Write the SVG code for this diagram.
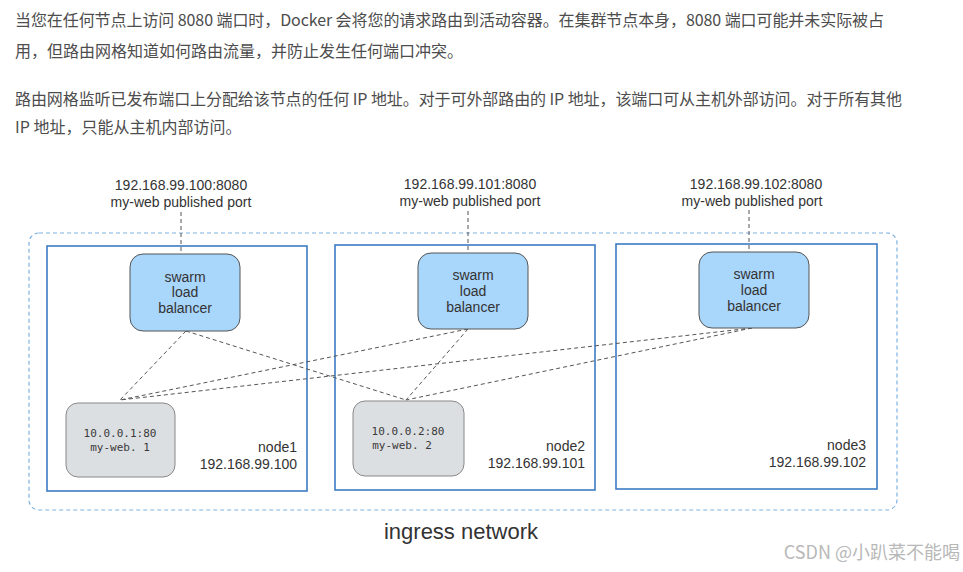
<svg xmlns="http://www.w3.org/2000/svg" width="963" height="572" viewBox="0 0 963 572">
<style>
.para{font-family:"Noto Sans CJK SC","Noto Sans",sans-serif;font-size:16px;fill:#4d4d4d}
.lbl{font-family:"Liberation Sans",Arial,sans-serif;font-size:14px;fill:#333}
.mono{font-family:"DejaVu Sans Mono","Liberation Mono",monospace;font-size:11px;fill:#3a3a3a;font-weight:normal}
.node{fill:#fff;stroke:#3d7bc4;stroke-width:1.6}
.lb{fill:#a9d6fb;stroke:#555;stroke-width:1}
.ct{fill:#dcdfe2;stroke:#888;stroke-width:1}
.conn{stroke:#555;stroke-width:1;stroke-dasharray:4 3;fill:none}
.outer{fill:none;stroke:#7db2e0;stroke-width:1.2;stroke-dasharray:4 3}
</style>
<rect width="963" height="572" fill="#fff"/>
<g id="text">
<text class="para" x="15" y="26" textLength="869" lengthAdjust="spacing">当您在任何节点上访问 8080 端口时，Docker 会将您的请求路由到活动容器。在集群节点本身，8080 端口可能并未实际被占</text>
<text class="para" x="15" y="57">用，但路由网格知道如何路由流量，并防止发生任何端口冲突。</text>
<text class="para" x="15" y="105" textLength="887" lengthAdjust="spacing">路由网格监听已发布端口上分配给该节点的任何 IP 地址。对于可外部路由的 IP 地址，该端口可从主机外部访问。对于所有其他</text>
<text class="para" x="15" y="133">IP 地址，只能从主机内部访问。</text>
</g>
<rect id="ingress" class="outer" x="29" y="233" width="868" height="277" rx="10"/>
<g id="node1"><rect class="node" x="47" y="246" width="260" height="245"/>
<text class="lbl" x="297" y="452" text-anchor="end">node1</text>
<text class="lbl" x="297" y="469" text-anchor="end">192.168.99.100</text></g>
<g id="node2"><rect class="node" x="335" y="245" width="260" height="245"/>
<text class="lbl" x="585" y="451" text-anchor="end">node2</text>
<text class="lbl" x="585" y="468" text-anchor="end">192.168.99.101</text></g>
<g id="node3"><rect class="node" x="616" y="244" width="261" height="245"/>
<text class="lbl" x="866" y="450" text-anchor="end">node3</text>
<text class="lbl" x="866" y="467" text-anchor="end">192.168.99.102</text></g>
<g id="connectors">
<line class="conn" x1="181" y1="212" x2="181" y2="254"/>
<line class="conn" x1="468" y1="211" x2="468" y2="253"/>
<line class="conn" x1="749" y1="210" x2="749" y2="252"/>
<line class="conn" x1="186" y1="331" x2="120" y2="400"/>
<line class="conn" x1="186" y1="331" x2="406" y2="400"/>
<line class="conn" x1="468" y1="329" x2="120" y2="400"/>
<line class="conn" x1="468" y1="329" x2="406" y2="400"/>
<line class="conn" x1="752" y1="328" x2="120" y2="400"/>
<line class="conn" x1="752" y1="328" x2="406" y2="400"/>
</g>
<g id="pub1"><text class="lbl" x="181" y="190" text-anchor="middle">192.168.99.100:8080</text><text class="lbl" x="181" y="207" text-anchor="middle">my-web published port</text></g>
<g id="pub2"><text class="lbl" x="470" y="189" text-anchor="middle">192.168.99.101:8080</text><text class="lbl" x="470" y="206" text-anchor="middle">my-web published port</text></g>
<g id="pub3"><text class="lbl" x="756" y="189" text-anchor="middle">192.168.99.102:8080</text><text class="lbl" x="752" y="206" text-anchor="middle">my-web published port</text></g>
<g id="lb1"><rect class="lb" x="130" y="254" width="110" height="77" rx="13"/>
<text class="lbl" x="185" y="282" text-anchor="middle">swarm</text><text class="lbl" x="185" y="297" text-anchor="middle">load</text><text class="lbl" x="185" y="313" text-anchor="middle">balancer</text></g>
<g id="lb2"><rect class="lb" x="418" y="253" width="110" height="76" rx="13"/>
<text class="lbl" x="473" y="280" text-anchor="middle">swarm</text><text class="lbl" x="473" y="296" text-anchor="middle">load</text><text class="lbl" x="473" y="312" text-anchor="middle">balancer</text></g>
<g id="lb3"><rect class="lb" x="699" y="252" width="110" height="76" rx="13"/>
<text class="lbl" x="754" y="279" text-anchor="middle">swarm</text><text class="lbl" x="754" y="295" text-anchor="middle">load</text><text class="lbl" x="754" y="311" text-anchor="middle">balancer</text></g>
<g id="c1"><rect class="ct" x="66" y="403" width="109" height="74" rx="12"/>
<text class="mono" x="120" y="437" text-anchor="middle">10.0.0.1:80</text><text class="mono" x="120" y="451" text-anchor="middle">my-web. 1</text></g>
<g id="c2"><rect class="ct" x="353" y="401" width="111" height="75" rx="12"/>
<text class="mono" x="408" y="435" text-anchor="middle">10.0.0.2:80</text><text class="mono" x="402" y="449" text-anchor="middle">my-web. 2</text></g>
<text class="lbl" x="461" y="539" text-anchor="middle" style="font-size:22px">ingress network</text>
<text x="960" y="559" text-anchor="end" style="font-family:'Noto Sans CJK SC','Noto Sans',sans-serif;font-size:18px;fill:#b8b8b8">CSDN @小趴菜不能喝</text>
</svg>
